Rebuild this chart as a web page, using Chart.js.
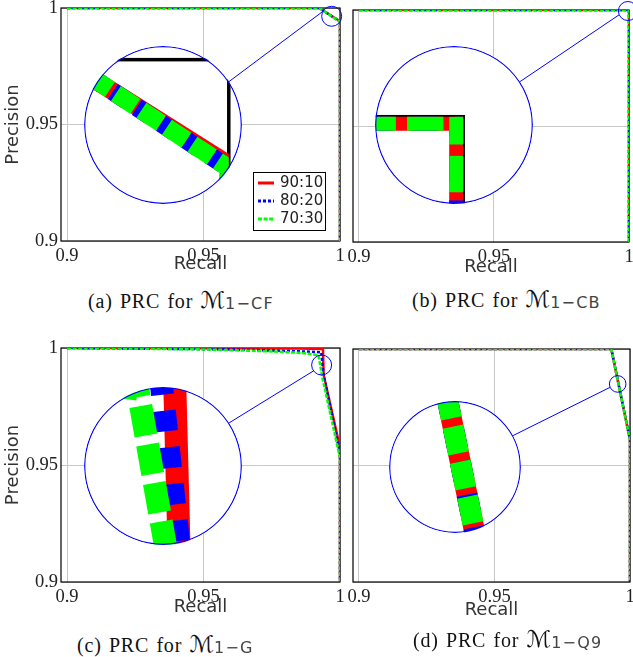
<!DOCTYPE html>
<html>
<head>
<meta charset="utf-8">
<title>PRC</title>
<script src="https://cdn.jsdelivr.net/npm/chart.js@4.4.1/dist/chart.umd.min.js"></script>
<style>
  html, body { margin: 0; padding: 0; background: #fff; }
  body { position: relative; width: 633px; height: 657px; overflow: hidden; }
  canvas.main { position: absolute; }
  .inset { position: absolute; border-radius: 50%; overflow: hidden; background: #fff; }
  .cap { position: absolute; font-family: "Liberation Serif", "DejaVu Serif", serif; font-size: 20px; line-height: 20px; letter-spacing: 0.8px; word-spacing: 1.5px; color: #111; white-space: nowrap; }
  .cap .m { font-family: "DejaVu Sans", sans-serif; font-size: 23px; letter-spacing: 0; }
  .cap .s { font-family: "DejaVu Sans", sans-serif; font-size: 16px; letter-spacing: 1.2px; position: relative; top: 1px; color: #444; }
</style>
</head>
<body>
<canvas id="cA" class="main" width="350" height="285" style="left:0;top:0"></canvas>
<canvas id="cB" class="main" width="288" height="285" style="left:345px;top:0"></canvas>
<canvas id="cC" class="main" width="350" height="290" style="left:0;top:340px"></canvas>
<canvas id="cD" class="main" width="288" height="290" style="left:345px;top:340px"></canvas>

<div class="cap" style="left:88px;top:290px">(a) PRC for <span class="m">ℳ</span><span class="s">1−CF</span></div>
<div class="cap" style="left:412px;top:289px">(b) PRC for <span class="m">ℳ</span><span class="s">1−CB</span></div>
<div class="cap" style="left:77px;top:634px">(c) PRC for <span class="m">ℳ</span><span class="s">1−G</span></div>
<div class="cap" style="left:413px;top:629px">(d) PRC for <span class="m">ℳ</span><span class="s">1−Q9</span></div>

<script>
// values
const seriesLabels = ["90:10", "80:20", "70:30"];
const xTickValues = [0.9, 0.95, 1];
const yTickValues = [0.9, 0.95, 1];
const tickLabels = ["0.9", "0.95", "1"];
const recallRange = [0.8978, 1];
const precisionRange = [0.9, 1];

// (a) M1-CF
const cfRecall90 = [0.9, 0.9923, 1, 1];
const cfPrec90 = [1, 1, 0.9943, 0.9];
const cfRecall80 = [0.9, 0.9924, 1, 1];
const cfPrec80 = [1, 1, 0.9941, 0.9];
const cfRecall70 = [0.9, 0.9924, 1, 1];
const cfPrec70 = [1, 1, 0.9941, 0.9];

// (b) M1-CB
const cbRecall90 = [0.9, 1, 1];
const cbPrec90 = [1, 1, 0.9];
const cbRecall80 = [0.9, 1, 1];
const cbPrec80 = [1, 1, 0.9];
const cbRecall70 = [0.9, 1, 1];
const cbPrec70 = [1, 1, 0.9];

// (c) M1-G
const gRecall90 = [0.9, 0.985, 0.99376, 0.99401, 1, 1];
const gPrec90 = [1, 0.9998, 0.9996, 0.9885, 0.9575, 0.9];
const gRecall80 = [0.9, 0.96, 0.985, 0.9931, 0.994, 1, 1];
const gPrec80 = [1, 0.9994, 0.9986, 0.9982, 0.9885, 0.955, 0.9];
const gRecall70 = [0.9, 0.95, 0.9735, 0.9857, 0.9921, 0.9936, 1, 1];
const gPrec70 = [1, 0.9994, 0.9986, 0.9979, 0.9969, 0.987, 0.953, 0.9];

// (d) M1-Q9
const qRecall90 = [0.9, 0.9931, 1, 1];
const qPrec90 = [1, 1, 0.961, 0.9];
const qRecall80 = [0.9, 0.9931, 1, 1];
const qPrec80 = [1, 1, 0.961, 0.9];
const qRecall70 = [0.9, 0.9931, 1, 1];
const qPrec70 = [1, 1, 0.961, 0.9];

// styles
const lineColors = ["#ff0000", "#0000ff", "#00ff00"];
const mainDash = [[], [3, 2], [4, 1.6]];
const insetDashUnits = [[], [0.9, 0.7], [1.3, 0.4]]; // times line width
const drawOrder = [3, 2, 1]; // green on top
const serifFont = "'Liberation Serif', 'DejaVu Serif', serif";
const sansFont = "'DejaVu Sans', sans-serif";

function toPoints(rs, ps) {
    return rs.map((x, i) => ({ x: x, y: ps[i] }));
}

function buildDatasets(series, lw, dashes) {
    return series.map((s, i) => ({
        label: seriesLabels[i],
        data: toPoints(s[0], s[1]),
        borderColor: lineColors[i],
        borderWidth: lw,
        borderDash: dashes[i],
        pointRadius: 0,
        fill: false,
        tension: 0,
        order: drawOrder[i],
    }));
}

function zeroPad(scale) {
    scale.paddingLeft = 0;
    scale.paddingRight = 0;
    scale.paddingTop = 0;
    scale.paddingBottom = 0;
}

// black box around the plot
const framePlugin = {
    id: "frame",
    beforeDatasetsDraw(chart) {
        const a = chart.chartArea;
        const ctx = chart.ctx;
        ctx.save();
        ctx.strokeStyle = "#000";
        ctx.lineWidth = 1.2;
        ctx.strokeRect(a.left, a.top, a.right - a.left, a.bottom - a.top);
        ctx.restore();
    },
};

function drawLegend(chart, box) {
    const ctx = chart.ctx;
    ctx.save();
    ctx.fillStyle = "#fff";
    ctx.fillRect(box.x, box.y, box.w, box.h);
    ctx.strokeStyle = "#000";
    ctx.lineWidth = 1;
    ctx.strokeRect(box.x + 0.5, box.y + 0.5, box.w, box.h);
    chart.data.datasets.forEach((ds, i) => {
        const y = box.y + 11 + i * 18;
        ctx.strokeStyle = ds.borderColor;
        ctx.lineWidth = 3;
        ctx.setLineDash(ds.borderDash);
        ctx.beginPath();
        ctx.moveTo(box.x + 5, y);
        ctx.lineTo(box.x + 21, y);
        ctx.stroke();
        ctx.setLineDash([]);
        ctx.fillStyle = "#222";
        ctx.font = "15px " + sansFont;
        ctx.textBaseline = "middle";
        ctx.fillText(ds.label, box.x + 27, y);
    });
    ctx.restore();
}

// small circle on the curve + line to the magnified view
function markPlugin(p) {
    return {
        id: "zoomMark",
        afterDraw(chart) {
            const ctx = chart.ctx;
            const ins = p.inset;
            const sx = chart.scales.x.getPixelForValue(ins.cx);
            const sy = chart.scales.y.getPixelForValue(ins.cy);
            const bx = ins.bx - p.left;
            const by = ins.by - p.top;
            const rad = Math.PI / 180;
            ctx.save();
            ctx.strokeStyle = "#0000ff";
            ctx.lineWidth = 1;
            ctx.beginPath();
            ctx.arc(sx, sy, ins.r, 0, 2 * Math.PI);
            ctx.stroke();
            ctx.beginPath();
            ctx.moveTo(bx + ins.R * Math.cos(ins.angB * rad), by + ins.R * Math.sin(ins.angB * rad));
            ctx.lineTo(sx + ins.r * Math.cos(ins.angS * rad), sy + ins.r * Math.sin(ins.angS * rad));
            ctx.stroke();
            ctx.restore();
            if (p.legend) drawLegend(chart, p.legend);
        },
    };
}

// inside the magnified circle: plot frame, clip to it, blue ring
const insetPlugin = {
    id: "insetFrame",
    beforeDatasetsDraw(chart) {
        const ctx = chart.ctx;
        const x = chart.scales.x;
        const y = chart.scales.y;
        const l = x.getPixelForValue(recallRange[0]);
        const r = x.getPixelForValue(recallRange[1]);
        const t = y.getPixelForValue(precisionRange[1]);
        const b = y.getPixelForValue(precisionRange[0]);
        ctx.save();
        ctx.strokeStyle = "#000";
        ctx.lineWidth = 3.5;
        ctx.strokeRect(l, t, r - l, b - t);
        ctx.beginPath();
        ctx.rect(l, t, r - l, b - t);
        ctx.clip();
    },
    afterDatasetsDraw(chart) {
        chart.ctx.restore();
    },
    afterDraw(chart) {
        const ctx = chart.ctx;
        const R = chart.width / 2;
        ctx.save();
        ctx.strokeStyle = "#0000ff";
        ctx.lineWidth = 1.2;
        ctx.beginPath();
        ctx.arc(R, R, R - 0.7, 0, 2 * Math.PI);
        ctx.stroke();
        ctx.restore();
    },
};

const panels = [
    {
        id: "cA", left: 0, top: 0,
        pad: { left: 0, top: 8, right: 10, bottom: 4 }, yW: 61, showY: true, xTitlePad: 6,
        series: [[cfRecall90, cfPrec90], [cfRecall80, cfPrec80], [cfRecall70, cfPrec70]],
        inset: { cx: 0.99695, cy: 0.99645, r: 10, bx: 162.5, by: 124.8, R: 79, lw: 18, angB: -33, angS: -150 },
        legend: { x: 253, y: 172, w: 72, h: 58 },
    },
    {
        id: "cB", left: 345, top: 0,
        pad: { left: 0, top: 10, right: 4, bottom: 3 }, yW: 8, showY: false, xTitlePad: 4,
        series: [[cbRecall90, cbPrec90], [cbRecall80, cbPrec80], [cbRecall70, cbPrec70]],
        inset: { cx: 0.99959, cy: 0.99957, r: 9.5, bx: 453.8, by: 125.3, R: 79, lw: 28, angB: -33.4, angS: 156.5 },
    },
    {
        id: "cC", left: 0, top: 340,
        pad: { left: 0, top: 8, right: 10, bottom: 8 }, yW: 61, showY: true, xTitlePad: 4,
        series: [[gRecall90, gPrec90], [gRecall80, gPrec80], [gRecall70, gPrec70]],
        inset: { cx: 0.99327, cy: 0.99274, r: 10, bx: 162.5, by: 465.5, R: 79, lw: 23, angB: -32.6, angS: 144 },
    },
    {
        id: "cD", left: 345, top: 340,
        pad: { left: 0, top: 9, right: 3, bottom: 8 }, yW: 8, showY: false, xTitlePad: 1,
        series: [[qRecall90, qPrec90], [qRecall80, qPrec80], [qRecall70, qPrec70]],
        inset: { cx: 0.99546, cy: 0.985, r: 8.3, bx: 454.5, by: 466.7, R: 66, lw: 21, angB: -28, angS: 156 },
    },
];

function makeInset(p, main) {
    const ins = p.inset;
    const xs = main.scales.x;
    const ys = main.scales.y;
    const hx = ins.r * (xs.max - xs.min) / (xs.right - xs.left);
    const hy = ins.r * (ys.max - ys.min) / (ys.bottom - ys.top);

    const holder = document.createElement("div");
    holder.className = "inset";
    holder.style.left = (ins.bx - ins.R) + "px";
    holder.style.top = (ins.by - ins.R) + "px";
    holder.style.width = 2 * ins.R + "px";
    holder.style.height = 2 * ins.R + "px";
    const canvas = document.createElement("canvas");
    canvas.width = 2 * ins.R;
    canvas.height = 2 * ins.R;
    holder.appendChild(canvas);
    document.body.appendChild(holder);

    const dashes = insetDashUnits.map((d) => d.map((v) => v * ins.lw));
    new Chart(canvas, {
        type: "line",
        data: { datasets: buildDatasets(p.series, ins.lw, dashes) },
        options: {
            responsive: false,
            animation: false,
            events: [],
            layout: { padding: 0 },
            plugins: { legend: { display: false }, tooltip: { enabled: false } },
            scales: {
                x: { type: "linear", display: false, min: ins.cx - hx, max: ins.cx + hx },
                y: { type: "linear", display: false, min: ins.cy - hy, max: ins.cy + hy },
            },
        },
        plugins: [insetPlugin],
    });
}

panels.forEach((p) => {
    const main = new Chart(document.getElementById(p.id), {
        type: "line",
        data: { datasets: buildDatasets(p.series, 2.5, mainDash) },
        options: {
            responsive: false,
            animation: false,
            events: [],
            layout: { padding: p.pad },
            plugins: { legend: { display: false }, tooltip: { enabled: false } },
            scales: {
                x: {
                    type: "linear",
                    min: recallRange[0],
                    max: recallRange[1],
                    afterBuildTicks: (s) => { s.ticks = xTickValues.map((v) => ({ value: v })); },
                    afterFit: (s) => { s.height = 40; zeroPad(s); },
                    grid: { color: "#c8c8c8", drawTicks: false },
                    border: { display: false },
                    ticks: {
                        padding: 4,
                        color: "#222",
                        maxRotation: 0,
                        autoSkip: false,
                        font: { family: serifFont, size: 18.5 },
                        callback: (v, i) => tickLabels[i],
                    },
                    title: {
                        display: true,
                        text: "Recall",
                        color: "#333",
                        font: { family: sansFont, size: 18 },
                        padding: { top: 0, bottom: p.xTitlePad },
                    },
                },
                y: {
                    type: "linear",
                    min: precisionRange[0],
                    max: precisionRange[1],
                    afterBuildTicks: (s) => { s.ticks = yTickValues.map((v) => ({ value: v })); },
                    afterFit: (s) => { s.width = p.yW; zeroPad(s); },
                    grid: { color: "#c8c8c8", drawTicks: false },
                    border: { display: false },
                    ticks: {
                        display: p.showY,
                        padding: 3,
                        color: "#222",
                        font: { family: serifFont, size: 18.5 },
                        callback: (v, i) => tickLabels[i],
                    },
                    title: {
                        display: p.showY,
                        text: "Precision",
                        color: "#333",
                        font: { family: sansFont, size: 18 },
                        padding: { top: 3, bottom: 0 },
                    },
                },
            },
        },
        plugins: [framePlugin, markPlugin(p)],
    });
    makeInset(p, main);
});
</script>
</body>
</html>
